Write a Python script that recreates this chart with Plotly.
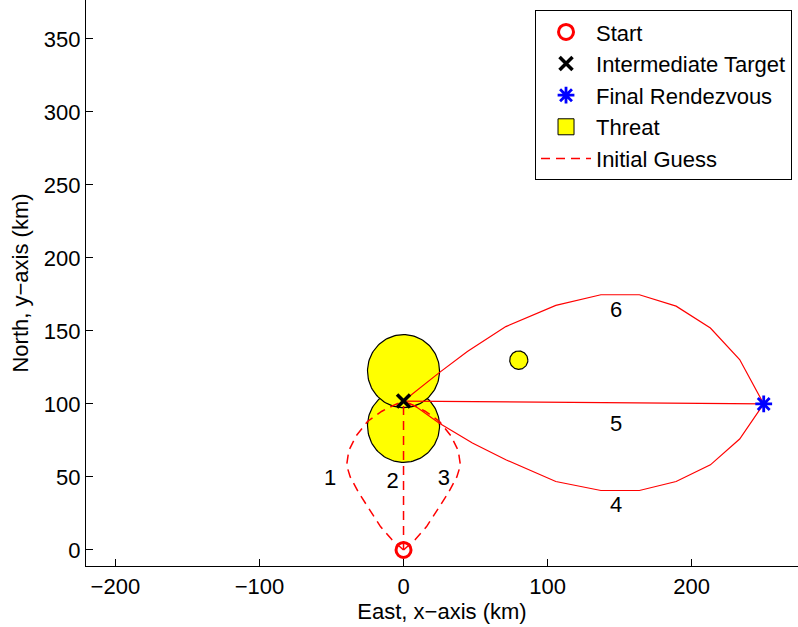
import numpy as np
import plotly.graph_objects as go

# Key points (km)
start_xy = (0, 0)
target_xy = (0, 102)
final_xy = (250, 100)

# Threat zones: centre and radius (km)
threat_x = [0, 0, 80]
threat_y = [85, 122.5, 130]
threat_r = [25, 25, 6.3]

# Initial-guess paths from start to intermediate target (dashed)
path1_x = [0, -8, -16, -24, -31, -37, -39.5, -38, -33, -25, -15, -7, 0]
path1_y = [0, 7, 16, 28, 39, 50, 58, 68, 78, 88, 95, 99, 102]
path2_x = [0, 0]
path2_y = [0, 102]
path3_x = [0, 8, 16, 24, 31, 37, 39.5, 38, 33, 25, 15, 7, 0]
path3_y = [0, 7, 16, 28, 39, 50, 58, 68, 78, 88, 95, 99, 102]

# Paths from intermediate target to final rendezvous (solid)
path4_x = [0, 8.3, 24.6, 47.8, 71, 105.7, 137, 163.7, 189.2, 213, 233.3, 250]
path4_y = [102, 98.4, 87, 73.2, 61.8, 46.9, 40.7, 40.7, 46.9, 58.3, 76, 100]
path5_x = [0, 250]
path5_y = [102, 100]
path6_x = [0, 24.6, 44.3, 71, 105.7, 137, 163.7, 189.2, 213, 233.3, 250]
path6_y = [102, 121.3, 136, 153, 167.5, 174.8, 174.8, 167, 152, 130.4, 100]

# Path number labels
label_x = [-51, -7.5, 28, 147.5, 147.5, 147.5]
label_y = [48, 46, 48, 29.5, 85.5, 163]
label_text = ["1", "2", "3", "4", "5", "6"]

FONT = "Liberation Sans, Arial, Helvetica, sans-serif"
RED = "#ff0000"
YELLOW = "#ffff00"

fig = go.Figure()

# Threat circles
theta = np.linspace(0, 2 * np.pi, 121)
for cx, cy, r in zip(threat_x, threat_y, threat_r):
    fig.add_trace(go.Scatter(
        x=cx + r * np.cos(theta), y=cy + r * np.sin(theta),
        mode="lines", fill="toself", fillcolor=YELLOW,
        line=dict(color="black", width=1.2),
        name="Threat", legendgroup="threat", showlegend=False,
        hoverinfo="skip",
    ))
# Legend swatch for the threat zones
fig.add_trace(go.Scatter(
    x=[None], y=[None], mode="markers", name="Threat", legendgroup="threat",
    marker=dict(symbol="square", size=16, color=YELLOW, line=dict(color="black", width=1)),
    legendrank=4,
))

# Dashed initial guesses
for i, (px, py) in enumerate([(path1_x, path1_y), (path2_x, path2_y), (path3_x, path3_y)]):
    fig.add_trace(go.Scatter(
        x=px, y=py, mode="lines",
        line=dict(color=RED, width=1.5, dash="9px,6px"),
        name="Initial Guess", legendgroup="guess", showlegend=(i == 0), legendrank=5,
    ))

# Solid paths to the final rendezvous
for px, py in [(path4_x, path4_y), (path5_x, path5_y), (path6_x, path6_y)]:
    fig.add_trace(go.Scatter(
        x=px, y=py, mode="lines",
        line=dict(color=RED, width=1.2),
        showlegend=False,
    ))

# Path labels
fig.add_trace(go.Scatter(
    x=label_x, y=label_y, mode="text", text=label_text,
    textfont=dict(family=FONT, size=22, color="black"),
    showlegend=False,
))

# Markers
fig.add_trace(go.Scatter(
    x=[start_xy[0]], y=[start_xy[1]], mode="markers", name="Start",
    marker=dict(symbol="circle-open", size=15, color=RED, line=dict(width=3, color=RED)),
    legendrank=1,
))
fig.add_trace(go.Scatter(
    x=[target_xy[0]], y=[target_xy[1]], mode="markers", name="Intermediate Target",
    marker=dict(symbol="x-thin-open", size=13, color="black", line=dict(width=3.5, color="black")),
    legendrank=2,
))
fig.add_trace(go.Scatter(
    x=[final_xy[0]], y=[final_xy[1]], mode="markers", name="Final Rendezvous",
    marker=dict(symbol="asterisk-open", size=14, color="blue", line=dict(width=2.8, color="blue")),
    legendrank=3,
))

axis_common = dict(
    showgrid=False, zeroline=False, showline=True, linecolor="black", linewidth=1.3,
    ticks="inside", ticklen=7, tickwidth=1, tickcolor="black",
    tickfont=dict(family=FONT, size=22, color="black"), mirror=False,
)

fig.update_layout(
    width=798, height=627,
    margin=dict(l=86, r=0, t=0, b=61),
    paper_bgcolor="white", plot_bgcolor="white",
    font=dict(family=FONT, size=22, color="black"),
    xaxis=dict(range=[-220.4, 273.8], tickvals=[-200, -100, 0, 100, 200],
               title=dict(text="East, x\u2212axis (km)", font=dict(family=FONT, size=22), standoff=1),
               **axis_common),
    yaxis=dict(range=[-11, 376.7], tickvals=[0, 50, 100, 150, 200, 250, 300, 350],
               title=dict(text="North, y\u2212axis (km)", font=dict(family=FONT, size=22), standoff=9),
               **axis_common),
    legend=dict(
        x=0.9916, y=0.982, xanchor="right", yanchor="top",
        bgcolor="white", bordercolor="black", borderwidth=1,
        font=dict(family=FONT, size=22, color="black"),
        traceorder="normal", tracegroupgap=0, itemwidth=50,
    ),
    showlegend=True,
)

fig.write_html("out.html")
